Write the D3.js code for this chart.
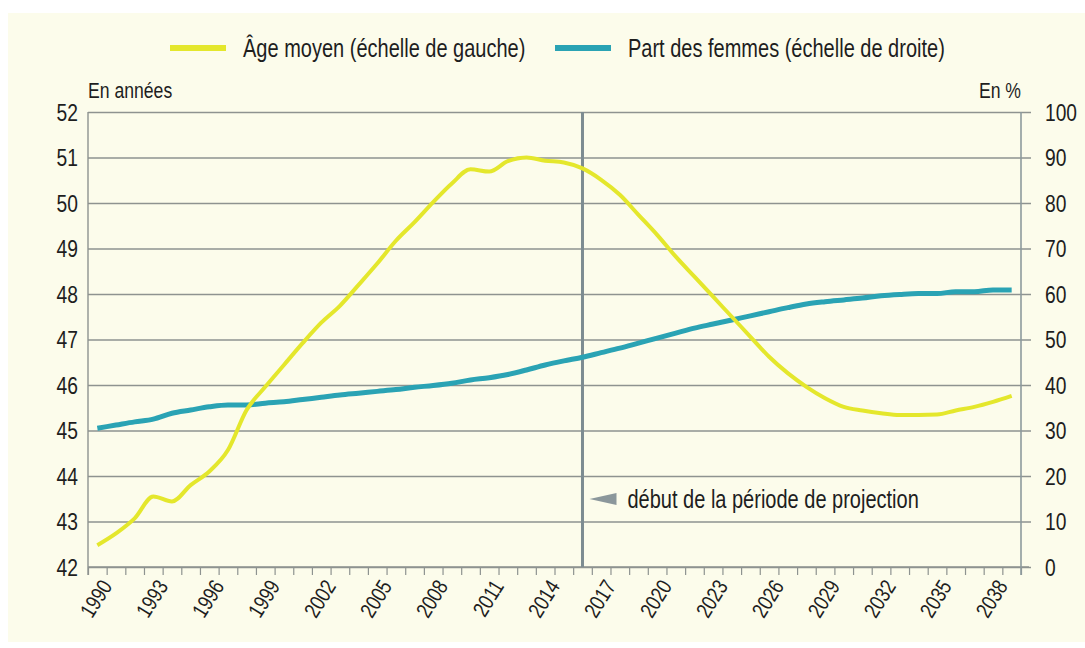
<!DOCTYPE html>
<html>
<head>
<meta charset="utf-8">
<script src="https://cdn.jsdelivr.net/npm/d3@7"></script>
<style>
  html, body { margin: 0; padding: 0; background: #ffffff; }
  svg text { font-family: "Liberation Sans", Arial, sans-serif; fill: #1e1e1e; }
</style>
</head>
<body>
<svg id="chart" width="1085" height="648"></svg>
<script>
// ---- data ----
const years = d3.range(1990, 2040);
const ageMoyen = [42.48, 42.74, 43.07, 43.55, 43.44, 43.80, 44.10, 44.57, 45.45, 45.96,
                  46.44, 46.92, 47.37, 47.74, 48.20, 48.67, 49.17, 49.58, 50.02, 50.43,
                  50.74, 50.69, 50.92, 51.00, 50.93, 50.89, 50.76, 50.51, 50.18, 49.74,
                  49.30, 48.82, 48.38, 47.94, 47.50, 47.06, 46.62, 46.26, 45.96, 45.71,
                  45.52, 45.44, 45.38, 45.34, 45.34, 45.35, 45.44, 45.52, 45.63, 45.76];
const partFemmes = [30.5, 31.2, 31.9, 32.5, 33.8, 34.5, 35.2, 35.6, 35.6, 36.0,
                    36.3, 36.8, 37.3, 37.8, 38.2, 38.6, 39.0, 39.5, 39.9, 40.4,
                    41.1, 41.6, 42.3, 43.3, 44.4, 45.3, 46.1, 47.1, 48.1, 49.2,
                    50.3, 51.4, 52.5, 53.4, 54.3, 55.2, 56.1, 57.0, 57.8, 58.3,
                    58.7, 59.1, 59.6, 59.9, 60.1, 60.1, 60.5, 60.5, 60.9, 60.9];
const leftTicks = d3.range(42, 53, 1);
const rightTicks = d3.range(0, 101, 10);
const yearLabels = d3.range(1990, 2040, 3);
const projectionYear = 2016;
const legendLabels = ["Âge moyen (échelle de gauche)", "Part des femmes (échelle de droite)"];
const leftTitle = "En années";
const rightTitle = "En %";
const annotation = "début de la période de projection";

// ---- layout ----
const svg = d3.select("#chart");
const L = 88, R = 1021, T = 112, B = 567;
const colYellow = "#e4e72c", colTeal = "#2aa3b4", grid = "#8e9390";

svg.append("rect").attr("x", 8).attr("y", 13).attr("width", 1077).attr("height", 629).attr("fill", "#fcfceb");

const x = d3.scaleLinear().domain([1989.5, 2039.5]).range([L, R]);
const yL = d3.scaleLinear().domain([42, 52]).range([B, T]);
const yR = d3.scaleLinear().domain([0, 100]).range([B, T]);

// gridlines (right axis ticks extend outward)
const gR = svg.append("g").attr("transform", `translate(${R},0)`)
  .call(d3.axisRight(yR).tickValues(rightTicks).tickSize(10).tickPadding(14));
gR.select(".domain").remove();
gR.selectAll(".tick line").attr("x1", -(R - L)).attr("x2", 10).attr("stroke", grid).attr("stroke-width", 1.4);
gR.selectAll(".tick text").attr("font-size", 24).attr("x", 24).attr("dy", "0.35em").style("fill", "#1e1e1e");

const gL = svg.append("g").attr("transform", `translate(${L},0)`)
  .call(d3.axisLeft(yL).tickValues(leftTicks).tickSize(0).tickPadding(10));
gL.select(".domain").remove();
gL.selectAll(".tick text").attr("font-size", 24).attr("dy", "0.35em").style("fill", "#1e1e1e");

// bottom axis ticks at year boundaries
const gB = svg.append("g").attr("transform", `translate(0,${B})`)
  .call(d3.axisBottom(x).tickValues(d3.range(1989.5, 2040, 1)).tickSize(8).tickFormat(""));
gB.select(".domain").remove();
gB.selectAll(".tick line").attr("stroke", grid).attr("stroke-width", 1.2);
svg.append("line").attr("x1", L).attr("x2", R + 8).attr("y1", B).attr("y2", B)
  .attr("stroke", grid).attr("stroke-width", 1.4);

// axis lines
svg.append("line").attr("x1", L).attr("x2", L).attr("y1", T).attr("y2", B + 8)
  .attr("stroke", grid).attr("stroke-width", 1.4);
svg.append("line").attr("x1", R).attr("x2", R).attr("y1", T).attr("y2", B + 8)
  .attr("stroke", "#8d9a9d").attr("stroke-width", 1.6);

// year labels
svg.append("g").selectAll("text").data(yearLabels).join("text")
  .attr("transform", d => `translate(${x(d) + 9},${B + 15}) rotate(-58)`)
  .attr("text-anchor", "end").attr("dy", "0.35em").attr("font-size", 22)
  .text(d => d);

// projection line
svg.append("line").attr("x1", x(projectionYear)).attr("x2", x(projectionYear))
  .attr("y1", T).attr("y2", B).attr("stroke", "#7d8c91").attr("stroke-width", 3);

// annotation
const ax = x(projectionYear) + 7, ay = 499;
svg.append("path").attr("d", `M${ax},${ay} L${ax + 27},${ay - 6} L${ax + 27},${ay + 6} Z`).attr("fill", "#8b979b");
svg.append("text").attr("x", ax + 38).attr("y", ay).attr("dy", "0.35em").attr("font-size", 25).text(annotation);

// lines
const idx = d3.range(years.length);
svg.append("path").datum(idx)
  .attr("fill", "none").attr("stroke", colTeal).attr("stroke-width", 5).attr("stroke-linejoin", "round")
  .attr("d", d3.line().x(i => x(years[i])).y(i => yR(partFemmes[i])).curve(d3.curveMonotoneX));
svg.append("path").datum(idx)
  .attr("fill", "none").attr("stroke", colYellow).attr("stroke-width", 4).attr("stroke-linejoin", "round")
  .attr("d", d3.line().x(i => x(years[i])).y(i => yL(ageMoyen[i])).curve(d3.curveMonotoneX));

// axis titles
svg.append("text").attr("x", L).attr("y", 98).attr("font-size", 22).text(leftTitle);
svg.append("text").attr("x", R).attr("y", 98).attr("font-size", 22).attr("text-anchor", "end").text(rightTitle);

// legend
const legend = [
  { label: legendLabels[0], color: colYellow, x0: 170 },
  { label: legendLabels[1], color: colTeal, x0: 555 }
];
const lg = svg.append("g").selectAll("g").data(legend).join("g");
lg.append("line").attr("x1", d => d.x0).attr("x2", d => d.x0 + 56).attr("y1", 48).attr("y2", 48)
  .attr("stroke", d => d.color).attr("stroke-width", 6);
lg.append("text").attr("x", d => d.x0 + 73).attr("y", 48).attr("dy", "0.35em").attr("font-size", 25)
  .text(d => d.label);

// condense all text (narrow typeface look)
svg.selectAll("text").each(function () {
  const w = this.getComputedTextLength();
  if (w > 0) {
    d3.select(this).attr("textLength", (w * 0.8).toFixed(1)).attr("lengthAdjust", "spacingAndGlyphs");
  }
});
</script>
</body>
</html>
